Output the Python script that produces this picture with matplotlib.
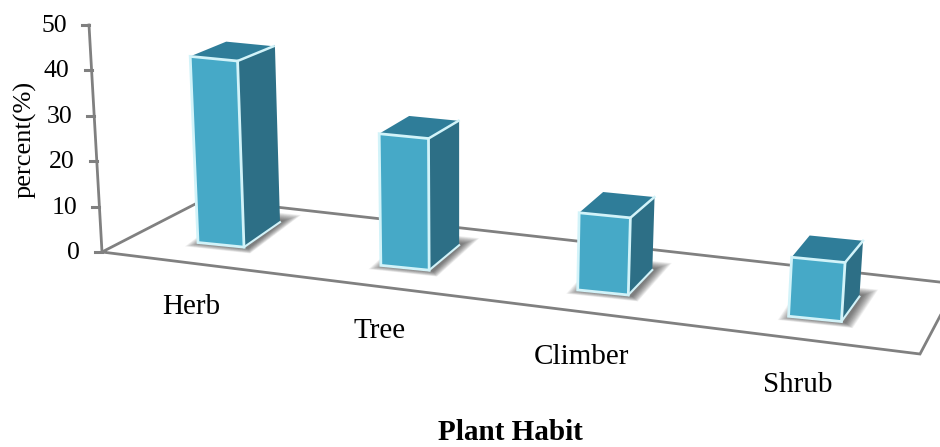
import matplotlib
matplotlib.use("Agg")
import matplotlib.pyplot as plt
from matplotlib.patches import Polygon

plt.rcParams['font.family'] = ['Liberation Serif', 'DejaVu Serif']

categories = ["Herb", "Tree", "Climber", "Shrub"]
values = [41, 29, 17, 13]
y_ticks = [0, 10, 20, 30, 40, 50]
x_title = "Plant Habit"
y_title = "percent(%)"

FRONT = "#46A9C7"
SIDE = "#2D6F86"
TOP = "#2F7D99"
EDGE = "#D2F3F9"
LINE = "#808080"

PX_PER_UNIT = 4.54
ORIGIN = (102, 252)


def lean(x, h):
    """Horizontal drift of a vertical edge under the chart's perspective."""
    return (x - 460) * 1.6e-4 * h


def up(p, h):
    return (p[0] + lean(p[0], h), p[1] - h)


def cat_x(i):
    """Centre of a category on the receding floor."""
    return 221 + 184 * i + 7 * i * (i - 1)


def front_y(x):
    return ORIGIN[1] + 0.1247 * (x - ORIGIN[0])


fig = plt.figure(figsize=(9.4, 4.47), dpi=100)
ax = fig.add_axes([0, 0, 1, 1])
ax.set_xlim(0, 940)
ax.set_ylim(447, 0)
ax.axis("off")

# floor
floor = [ORIGIN, (920, 354), (957, 284), (205, 199)]
ax.add_patch(Polygon(floor, closed=True, fill=False, ec=LINE, lw=2, zorder=1))

# value axis
top_axis = up(ORIGIN, max(y_ticks) * PX_PER_UNIT)
ax.plot([ORIGIN[0], top_axis[0]], [ORIGIN[1], top_axis[1]], color=LINE, lw=2, zorder=1)
for t in y_ticks:
    tx, ty = up(ORIGIN, t * PX_PER_UNIT)
    ax.plot([tx - 7, tx], [ty, ty], color=LINE, lw=2.2, zorder=1)
    ax.text(tx - 22, ty + 1, str(t), ha="right", va="center", fontsize=18.5, color="black")

# bars
for i, (name, v) in enumerate(zip(categories, values)):
    c = cat_x(i)
    w = 46 + 2.3 * i
    h = v * PX_PER_UNIT
    y0 = front_y(c) - 22
    bl = (c - w / 2, y0 - 0.1 * w / 2)
    br = (c + w / 2, y0 + 0.1 * w / 2)
    dx = 36 - 6 * i
    db = (dx, -25)
    dt = (dx, -25 + 0.055 * h)
    bk = (br[0] + db[0], br[1] + db[1])
    tl, tr = up(bl, h), up(br, h)
    tr_b = (tr[0] + dt[0], tr[1] + dt[1])
    tl_b = (tl[0] + dt[0], tl[1] + dt[1])

    # soft shadow on the floor
    cx = (bl[0] + bk[0]) / 2
    cy = (bl[1] + bk[1]) / 2 + 3
    foot = [bl, br, bk, (bl[0] + db[0], bl[1] + db[1])]
    for s in range(22):
        k = 1.42 - 0.02 * s
        pts = [(cx + (px - cx) * k + 4, cy + (py - cy) * (k + 0.12)) for px, py in foot]
        ax.add_patch(Polygon(pts, closed=True, fc="#303030", ec="none", alpha=0.04, zorder=2))

    ax.add_patch(Polygon([br, bk, up(bk, h * 0.95), tr], closed=True, fc=SIDE, ec="none", zorder=3))
    ax.add_patch(Polygon([tl, tr, tr_b, tl_b], closed=True, fc=TOP, ec="none", zorder=3))
    ax.add_patch(Polygon([bl, br, tr, tl], closed=True, fc=FRONT, ec=EDGE, lw=2, zorder=4))
    ax.plot([tr[0], tr_b[0]], [tr[1], tr_b[1]], color=EDGE, lw=1.8, zorder=5)
    ax.plot([br[0], bk[0]], [br[1], bk[1]], color=EDGE, lw=1.5, zorder=5)

    ax.text(c - 30 + 4.2 * i, front_y(c) + 47 + 1.5 * i, name, ha="center", va="baseline",
            fontsize=21, color="black")

ax.text(510.5, 440.5, x_title, ha="center", va="baseline", fontsize=21, fontweight="bold", color="black")
ax.text(25, 139, y_title, ha="center", va="center", rotation=90, fontsize=19, color="black")

fig.savefig("out.png", dpi=100)
